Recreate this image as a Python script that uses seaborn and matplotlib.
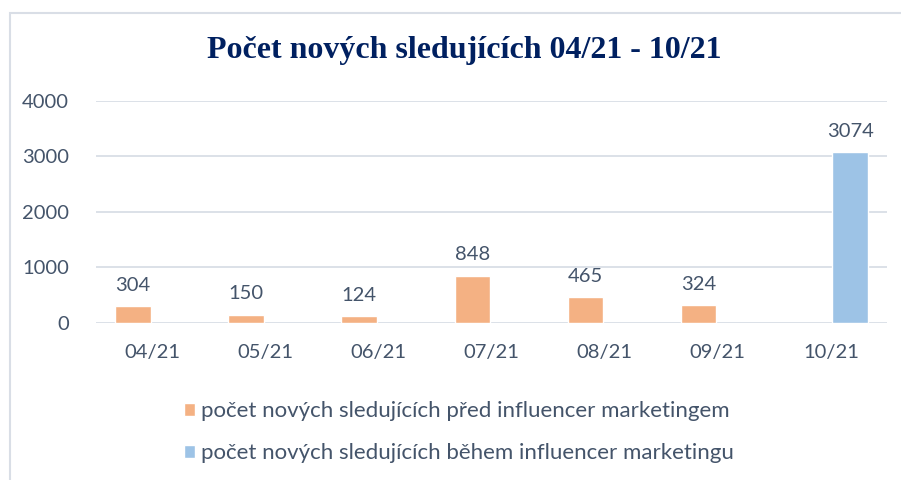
import numpy as np
import pandas as pd
import seaborn as sns
import matplotlib.pyplot as plt
from matplotlib.patches import Rectangle

# Dados do gráfico
mesice = ['04/21', '05/21', '06/21', '07/21', '08/21', '09/21', '10/21']
pred = [304, 150, 124, 848, 465, 324, np.nan]
behem = [np.nan, np.nan, np.nan, np.nan, np.nan, np.nan, 3074]
serie_pred = 'počet nových sledujících před influencer marketingem'
serie_behem = 'počet nových sledujících během influencer marketingu'
titulek = 'Počet nových sledujících 04/21 - 10/21'

text_color = '#44546A'
grid_color = '#D9DEE6'
barvy = {serie_pred: '#F4B183', serie_behem: '#9DC3E6'}


def main():
    df = pd.DataFrame({
        'mesic': mesice * 2,
        'hodnota': pred + behem,
        'serie': [serie_pred] * len(mesice) + [serie_behem] * len(mesice),
    })

    sns.set_theme(style='white')
    plt.rcParams['font.family'] = ['Lato', 'DejaVu Sans']

    fig = plt.figure(figsize=(9.01, 4.80), dpi=100)
    ax = fig.add_axes([0.106, 0.327, 0.879, 0.463])

    # Rámeček kolem celého grafu
    fig.patches.append(Rectangle((0.011, -0.1), 1.1, 1.073, transform=fig.transFigure,
                                 fill=False, edgecolor='#D9DEE6', linewidth=1.5))

    sns.barplot(data=df, x='mesic', y='hodnota', hue='serie', palette=barvy,
                width=0.68, gap=0.08, ax=ax, legend=True, saturation=1)

    for cont in ax.containers:
        labels = ['' if np.isnan(v) else f'{int(v)}' for v in cont.datavalues]
        ax.bar_label(cont, labels=labels, padding=9, fontsize=14.5, color=text_color)

    ax.set_ylim(0, 4000)
    ax.set_yticks([0, 1000, 2000, 3000, 4000])
    ax.yaxis.grid(True, color=grid_color, linewidth=1.3)
    ax.set_axisbelow(True)
    for s in ax.spines.values():
        s.set_visible(False)
    ax.tick_params(axis='both', length=0, labelsize=14.5, labelcolor=text_color)
    ax.tick_params(axis='x', pad=15)
    ax.tick_params(axis='y', pad=19)
    ax.set_xlabel('')
    ax.set_ylabel('')

    fig.text(0.515, 0.895, titulek, ha='center', va='center', fontsize=23, fontweight='bold',
             color='#002060', family='Liberation Serif')

    ax.legend(loc='upper left', bbox_to_anchor=(173 / 901, 1 - 390 / 480),
              bbox_transform=fig.transFigure, ncol=1, frameon=False, borderpad=0,
              fontsize=16, labelcolor=text_color, handlelength=0.5, handleheight=0.5,
              handletextpad=0.25, labelspacing=1.0)

    plt.savefig('out.png', dpi=100)


if __name__ == "__main__":
    main()
